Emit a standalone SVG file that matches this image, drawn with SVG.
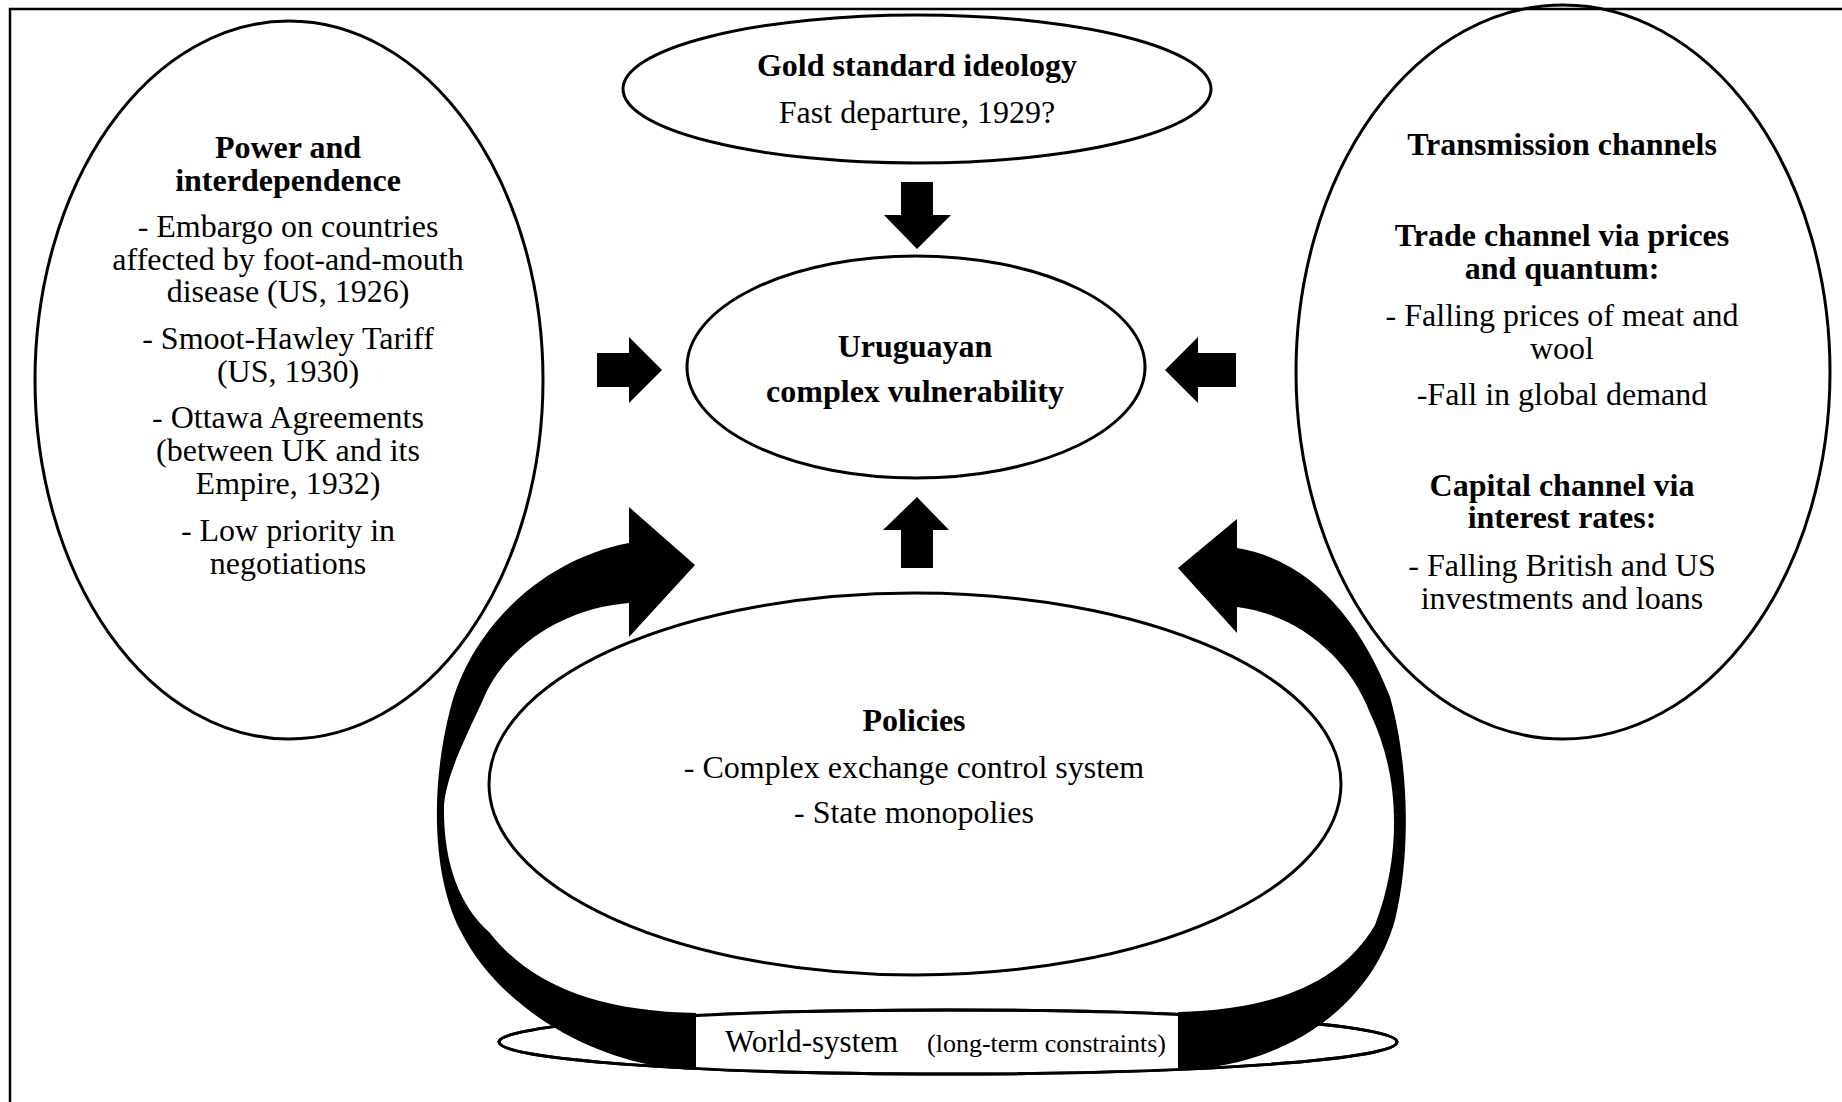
<svg xmlns="http://www.w3.org/2000/svg" width="1842" height="1102" viewBox="0 0 1842 1102">
<style>
.e{fill:none;stroke:#000;stroke-width:3}
.t{font-family:"Liberation Serif","Times New Roman",serif;font-size:32px;fill:#000;text-anchor:middle}
.b{font-weight:bold}
.a{fill:#000;stroke:none}
</style>
<rect x="0" y="0" width="1842" height="1102" fill="#fff"/>
<rect x="10" y="9" width="1860" height="1120" fill="none" stroke="#000" stroke-width="2.5"/>

<g id="node-power">
<ellipse class="e" cx="289" cy="380" rx="254" ry="359"/>
<text class="t b" x="288" y="158">Power and</text>
<text class="t b" x="288" y="191">interdependence</text>
<text class="t" x="288" y="237">- Embargo on countries</text>
<text class="t" x="288" y="270">affected by foot-and-mouth</text>
<text class="t" x="288" y="302">disease (US, 1926)</text>
<text class="t" x="288" y="349">- Smoot-Hawley Tariff</text>
<text class="t" x="288" y="382">(US, 1930)</text>
<text class="t" x="288" y="428">- Ottawa Agreements</text>
<text class="t" x="288" y="461">(between UK and its</text>
<text class="t" x="288" y="494">Empire, 1932)</text>
<text class="t" x="288" y="541">- Low priority in</text>
<text class="t" x="288" y="574">negotiations</text>
</g>

<g id="node-transmission">
<ellipse class="e" cx="1563" cy="372" rx="267" ry="367"/>
<text class="t b" x="1562" y="155">Transmission channels</text>
<text class="t b" x="1562" y="246">Trade channel via prices</text>
<text class="t b" x="1562" y="279">and quantum:</text>
<text class="t" x="1562" y="326">- Falling prices of meat and</text>
<text class="t" x="1562" y="359">wool</text>
<text class="t" x="1562" y="405">-Fall in global demand</text>
<text class="t b" x="1562" y="496">Capital channel via</text>
<text class="t b" x="1562" y="528">interest rates:</text>
<text class="t" x="1562" y="576">- Falling British and US</text>
<text class="t" x="1562" y="609">investments and loans</text>
</g>

<g id="node-gold">
<ellipse class="e" cx="917" cy="89" rx="294" ry="74"/>
<text class="t b" x="917" y="76">Gold standard ideology</text>
<text class="t" x="917" y="123">Fast departure, 1929?</text>
</g>

<g id="node-vulnerability">
<ellipse class="e" cx="916" cy="367" rx="229" ry="111"/>
<text class="t b" x="915" y="357">Uruguayan</text>
<text class="t b" x="915" y="402">complex vulnerability</text>
</g>

<g id="node-policies">
<ellipse class="e" cx="915" cy="784" rx="426" ry="191"/>
<text class="t b" x="914" y="731">Policies</text>
<text class="t" x="914" y="778">- Complex exchange control system</text>
<text class="t" x="914" y="823">- State monopolies</text>
</g>

<g id="node-world-base">
<ellipse class="e" cx="948" cy="1042" rx="449" ry="32"/>
</g>

<g id="connectors">
<path class="a" d="M597,353 L629,353 L629,337 L662,370 L629,403 L629,387 L597,387 Z"/>
<path class="a" d="M1236,353 L1198,353 L1198,337 L1165,370 L1198,403 L1198,387 L1236,387 Z"/>
<path class="a" d="M901,182 L933,182 L933,215 L951,215 L917,249 L884,215 L901,215 Z"/>
<path class="a" d="M901,568 L933,568 L933,530 L949,530 L917,497 L883,530 L901,530 Z"/>
<path class="a" d="M697,1070 C600,1068 500,1010 460,930 C430,870 432,780 450,710 C470,630 540,560 629,543 L629,507 L695,565 L629,637 L629,603 C565,608 505,645 482,702 C462,745 447,775 444,805 C443,860 458,905 490,933 C530,985 600,1012 697,1013 Z"/>
<path class="a" d="M1178,1070 C1280,1068 1370,1010 1395,920 C1412,850 1408,760 1390,697 C1360,620 1310,560 1237,548 L1237,519 L1178,568 L1237,633 L1237,607 C1300,615 1350,660 1370,713 C1398,770 1404,850 1375,925 C1340,985 1270,1010 1178,1012 Z"/>
</g>

<g id="node-world">
<rect x="696" y="1013" width="482" height="57" fill="#fff"/>
<ellipse class="e" cx="948" cy="1042" rx="449" ry="32"/>
<text class="t" style="text-anchor:start;font-size:31px" x="725" y="1052">World-system</text>
<text class="t" style="text-anchor:start;font-size:26px" x="927" y="1052">(long-term constraints)</text>
</g>
</svg>
